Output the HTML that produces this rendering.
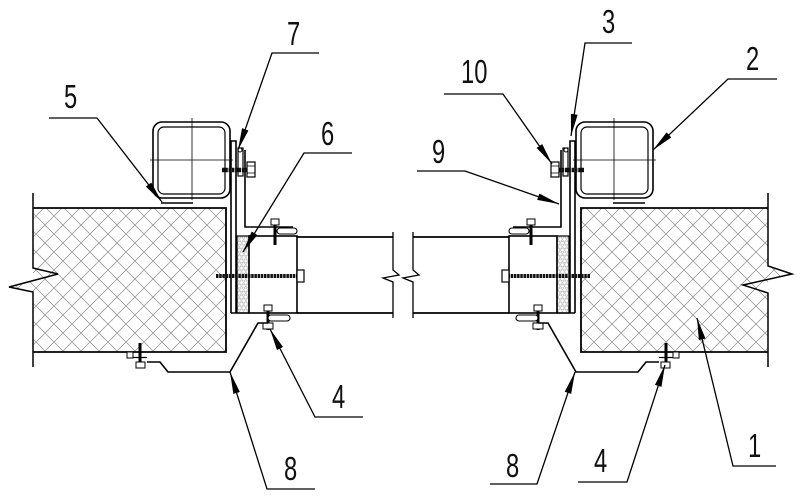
<!DOCTYPE html>
<html><head><meta charset="utf-8">
<style>
html,body{margin:0;padding:0;background:#fff;}
svg{display:block;}
.t{font-family:"Liberation Sans",sans-serif;font-size:33px;fill:#111;}
</style></head><body>
<svg width="800" height="503" viewBox="0 0 800 503" xmlns="http://www.w3.org/2000/svg">
<defs>
<pattern id="h" width="18" height="18" patternUnits="userSpaceOnUse">
<path d="M0,0L18,18M18,0L0,18M-1,1L1,-1M17,19L19,17M-1,17L1,19M17,-1L19,1" stroke="#8f8f8f" stroke-width="0.75" fill="none"/>
</pattern>
<pattern id="f" width="4.2" height="7.2" patternUnits="userSpaceOnUse">
<g fill="none" stroke="#999" stroke-width="0.45">
<circle cx="2.1" cy="1.8" r="1.8"/><circle cx="0" cy="5.4" r="1.8"/><circle cx="4.2" cy="5.4" r="1.8"/>
</g>
</pattern>
<marker id="a" markerUnits="userSpaceOnUse" markerWidth="24" markerHeight="8" refX="22" refY="4" orient="auto">
<path d="M0,0.6L22,4L0,7.4z" fill="#000"/>
</marker>
</defs>

<!-- left panel -->
<polygon points="33,208 226,208 226,352 33,352 33,292 9,287 33,280.6" fill="url(#h)"/>
<g fill="none" stroke="#000">
<path d="M33,208H226V352H33" stroke-width="1.8"/>
<path d="M33,193V268L58,274L9,287L33,292V367" stroke-width="1.5"/>
</g>

<!-- right panel -->
<polygon points="581,208 768,208 768,266 792,274 768,279.4 768,352 581,352" fill="url(#h)"/>
<g fill="none" stroke="#000">
<path d="M768,208H581V352H768" stroke-width="1.8"/>
<path d="M768,193V266L792,274L743,285L768,293V367" stroke-width="1.5"/>
</g>

<g id="half" fill="none" stroke="#000">
<rect x="153" y="122" width="77" height="76" rx="9" stroke-width="1.6"/>
<rect x="158" y="127" width="67" height="67" rx="6" stroke-width="1.2"/>
<path d="M192,118V200M150,160H233" stroke-width="0.8"/>
<path d="M161,203H193" stroke-width="1.6"/>
<path d="M231,313V141H236V313M231,313H249" stroke-width="1.6"/>
<path d="M245,150V227H293" stroke-width="1.6"/>
<rect x="238" y="148" width="5" height="28" stroke-width="1.2" fill="#fff"/>
<circle cx="240" cy="150" r="2" stroke-width="1" fill="#fff"/>
<path d="M222,170H247" stroke="#111" stroke-width="4.5" stroke-dasharray="2.5 0.8"/>
<rect x="247" y="162" width="8" height="15" fill="#fff" stroke-width="1.2"/>
<path d="M247,166H255M247,173H255" stroke-width="0.8"/>
<rect x="237" y="236" width="12" height="77" fill="url(#f)" stroke-width="1.2"/>
<rect x="249" y="236" width="48" height="77" stroke-width="1.6"/>
<path d="M297,237H393M297,313H393" stroke-width="1.8"/>
<path d="M275,221V245" stroke-width="3"/>
<rect x="271" y="219" width="8" height="6" fill="#fff" stroke-width="1"/>
<rect x="277" y="228" width="20" height="6" rx="3" fill="#fff" stroke-width="1.1"/>
<path d="M216,276H297" stroke="#111" stroke-width="4" stroke-dasharray="2.5 0.7"/>
<rect x="297" y="270" width="7" height="12" fill="#fff" stroke-width="1.2"/>
<path d="M268,305V330" stroke-width="3"/>
<rect x="264" y="305" width="8" height="6" fill="#fff" stroke-width="1"/>
<rect x="268" y="315" width="22" height="6" rx="3" fill="#fff" stroke-width="1.1"/>
<rect x="263" y="323" width="10" height="6" fill="#fff" stroke-width="1"/>
<path d="M147,362H160L168,372H230L258,323H268" stroke-width="1.6"/>
<path d="M140,343V362" stroke-width="3"/>
<rect x="136" y="362" width="9" height="6" fill="#fff" stroke-width="1"/>
<rect x="127" y="352" width="6" height="6" fill="#fff" stroke-width="1"/>
<path d="M133,357.5H147" stroke-width="1.2"/>
</g>
<use href="#half" transform="matrix(-1 0 0 1 806 0)"/>

<!-- break lines -->
<g fill="none" stroke="#000" stroke-width="1.3">
<path d="M393,232V270L399,275L383,278L393,282V318"/>
<path d="M413,232V270L419,275L403,278L413,282V318"/>
</g>

<!-- leaders -->
<g fill="none" stroke="#000" stroke-width="1.3">
<path d="M49,118H97L162,202" marker-end="url(#a)"/>
<path d="M319,53H272L238,150" marker-end="url(#a)"/>
<path d="M352,153H304L243,252" marker-end="url(#a)"/>
<path d="M632,43H585L571,136" marker-end="url(#a)"/>
<path d="M777,79H728L653,150" marker-end="url(#a)"/>
<path d="M444,94H503L552,164" marker-end="url(#a)"/>
<path d="M417,171H465L559,204" marker-end="url(#a)"/>
<path d="M363,417H315L270,329" marker-end="url(#a)"/>
<path d="M315,489H267L230,372" marker-end="url(#a)"/>
<path d="M490,484H537L575,372" marker-end="url(#a)"/>
<path d="M578,482H627L665,365" marker-end="url(#a)"/>
<path d="M776,466H733L697,318" marker-end="url(#a)"/>
</g>

<!-- labels -->
<text class="t" transform="translate(64,108) scale(0.72,1)">5</text>
<text class="t" transform="translate(287,45) scale(0.72,1)">7</text>
<text class="t" transform="translate(321,145) scale(0.72,1)">6</text>
<text class="t" transform="translate(602,33) scale(0.72,1)">3</text>
<text class="t" transform="translate(746,70) scale(0.72,1)">2</text>
<text class="t" transform="translate(461,83) scale(0.72,1)">10</text>
<text class="t" transform="translate(432,163) scale(0.72,1)">9</text>
<text class="t" transform="translate(332,408) scale(0.72,1)">4</text>
<text class="t" transform="translate(284,480) scale(0.72,1)">8</text>
<text class="t" transform="translate(506,477) scale(0.72,1)">8</text>
<text class="t" transform="translate(594,472) scale(0.72,1)">4</text>
<text class="t" transform="translate(748,457) scale(0.72,1)">1</text>
</svg>
</body></html>
